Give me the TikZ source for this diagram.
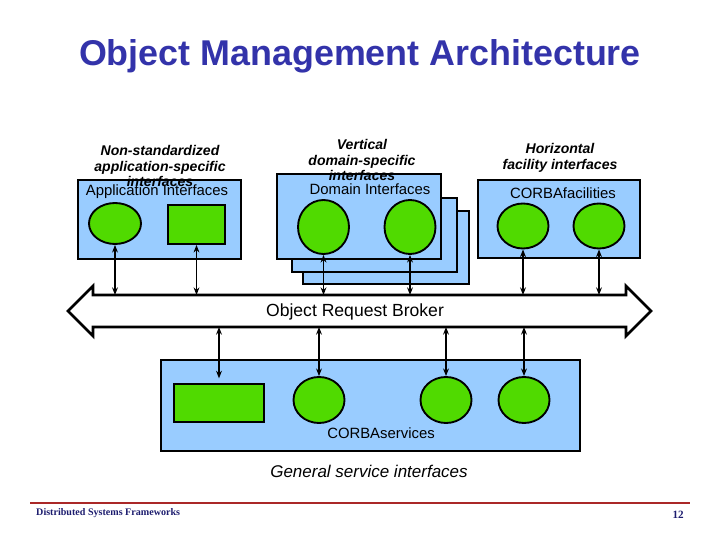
\documentclass[tikz,border=0pt]{standalone}
\usepackage{fontspec}
\setmainfont{Liberation Sans}
\newfontfamily\footfont{Liberation Serif}
\usetikzlibrary{shapes.geometric,arrows.meta}
\definecolor{boxblue}{RGB}{153,204,255}
\definecolor{objgreen}{RGB}{80,218,0}
\definecolor{titleblue}{RGB}{51,51,170}
\definecolor{footblue}{RGB}{28,28,110}
\definecolor{footred}{RGB}{170,40,40}

\begin{document}
\begin{tikzpicture}[x=0.03cm,y=-0.03cm,>={Stealth[length=6.5pt,width=5pt]},
    box/.style={draw,line width=2.4pt,fill=boxblue},
    obj/.style={ellipse,draw,line width=1.6pt,fill=objgreen,minimum width=1.53cm,minimum height=1.35cm,inner sep=0pt},
    blk/.style={rectangle,draw,line width=1.6pt,fill=objgreen,inner sep=0pt},
    lbl/.style={font=\fontsize{12.7}{14}\selectfont},
    note/.style={font=\fontsize{12}{13.6}\selectfont\bfseries\itshape,align=center},
    link/.style={<->,line width=1.3pt}]
    \useasboundingbox (0,0) rectangle (720,540);
    \node[font=\fontsize{30.6}{36}\selectfont\bfseries,text=titleblue,anchor=base] (t) at (360,66) {Object Management Architecture};
    \draw[box] (78,180) rectangle (241,259);
    \draw[box] (303,211) rectangle (469,284);
    \draw[box] (292,198) rectangle (457,272);
    \draw[box] (277,174) rectangle (441,259);
    \draw[box] (478,180) rectangle (640,258);
    \draw[box] (161,360) rectangle (580,451);
    \draw[line width=2.4pt,fill=white] (68,311) -- (93,286) -- (93,295) -- (626,295) -- (626,286) -- (651,311)
        -- (626,336) -- (626,327) -- (93,327) -- (93,336) -- cycle;
    \node[note] (na) at (160,166) {Non-standardized\\application-specific\\interfaces};
    \node[lbl] (la) at (157,192) {Application Interfaces};
    \node[obj,minimum width=1.56cm,minimum height=1.23cm] (a) at (115,223.5) {};
    \node[blk,minimum width=1.71cm,minimum height=1.17cm] (b) at (196.5,224.5) {};
    \node[note] (nb) at (362,160) {Vertical\\domain-specific\\interfaces};
    \node[lbl] (lb) at (370,189) {Domain Interfaces};
    \node[obj,minimum height=1.62cm] (c) at (323.5,227) {};
    \node[obj,minimum height=1.62cm] (d) at (410,227) {};
    \node[note] (nc) at (560,158) {Horizontal\\facility interfaces};
    \node[lbl] (lc) at (563,193) {CORBAfacilities};
    \node[obj] (e) at (523,226) {};
    \node[obj] (f) at (599,226) {};
    \node[font=\fontsize{15}{18}\selectfont] (orb) at (355,312) {Object Request Broker};
    \coordinate (ot) at (355,295);
    \coordinate (ob) at (355,327);
    \node[blk,minimum width=2.7cm,minimum height=1.14cm] (g) at (219,403) {};
    \node[obj,minimum height=1.38cm] (h) at (319,400) {};
    \node[obj,minimum height=1.38cm] (i) at (446,400) {};
    \node[obj,minimum height=1.38cm] (j) at (524,400) {};
    \node[lbl] (ld) at (381,433) {CORBAservices};
    \node[font=\fontsize{14.5}{17}\selectfont\itshape] (ne) at (369,471) {General service interfaces};
    \draw[link] (a.south) -- (a.south |- ot);
    \draw[link,line width=0.9pt] (b.south) -- (b.south |- ot);
    \draw[link] (c.south) -- (c.south |- ot);
    \draw[link] (d.south) -- (d.south |- ot);
    \draw[link] (e.south) -- (e.south |- ot);
    \draw[link] (f.south) -- (f.south |- ot);
    \draw[link,shorten >=4pt] (g.north |- ob) -- (g.north);
    \draw[link] (h.north |- ob) -- (h.north);
    \draw[link] (i.north |- ob) -- (i.north);
    \draw[link] (j.north |- ob) -- (j.north);
    \coordinate (fl) at (30,503);
    \coordinate (fr) at (690,503);
    \draw[footred,line width=2pt] (fl) -- (fr);
    \node[anchor=west,inner sep=0pt,text=footblue,font=\footfont\bfseries\fontsize{8.6}{10}\selectfont] (fa) at (36,513) {Distributed Systems Frameworks};
    \node[anchor=east,inner sep=0pt,text=footblue,font=\footfont\bfseries\fontsize{9.5}{11}\selectfont] (fb) at (684,515) {12};
\end{tikzpicture}
\end{document}
